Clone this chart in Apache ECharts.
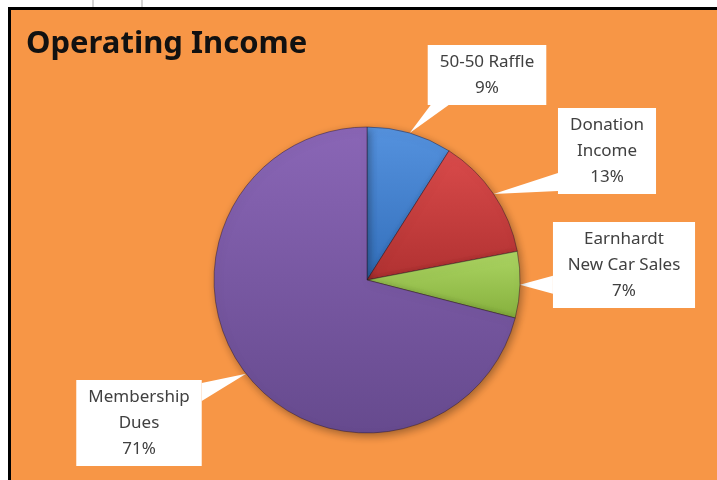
<!DOCTYPE html>
<html>
<head>
<meta charset="utf-8">
<script src="https://cdn.jsdelivr.net/npm/echarts@6/dist/echarts.min.js"></script>
<style>
  html, body { margin: 0; padding: 0; background: #fff; width: 717px; height: 480px; overflow: hidden; }
  .grid-line { position: absolute; top: 0; width: 2px; height: 7px; background: #d4d4d4; }
  #chart {
    position: absolute; left: 8px; top: 7px;
    width: 706px; height: 470px;
    border-left: 3px solid #000; border-top: 3px solid #000;
  }
</style>
</head>
<body>
<div class="grid-line" style="left:92px"></div>
<div class="grid-line" style="left:141px"></div>
<div id="chart"></div>
<script>
// data
const categories = ["50-50 Raffle", "Donation\nIncome", "Earnhardt\nNew Car Sales", "Membership\nDues"];
const shares = [9, 13, 7, 71];

// slice colours: [light, dark]
const sliceColors = [
  ["#5592de", "#336fbb"],
  ["#da4b4b", "#b03131"],
  ["#acd563", "#86b03d"],
  ["#8a66b6", "#664a8e"],
];
// centre of each callout box, in chart pixels
const labelCenters = [
  [476, 65],
  [596, 141],
  [613, 255],
  [128, 413],
];

const chart = echarts.init(document.getElementById("chart"));

const options = {
  backgroundColor: "#f79646",
  animation: false,
  title: {
    text: "Operating Income",
    left: 10,
    top: 14,
    textStyle: {
      fontFamily: "Noto Sans",
      fontSize: 31,
      fontWeight: "bold",
      color: "#111",
    },
  },
  series: [
    {
      type: "pie",
      center: [356, 270],
      radius: 153,
      startAngle: 90,
      clockwise: true,
      label: {
        show: true,
        formatter: "{b}\n{d}%",
        fontFamily: "Noto Sans",
        fontSize: 17,
        lineHeight: 26,
        color: "#404040",
        backgroundColor: "#fff",
        padding: [5, 12, 3, 12],
        align: "center",
      },
      labelLine: { show: false },
      labelLayout: function (params) {
        const c = labelCenters[params.dataIndex];
        return { x: c[0], y: c[1], align: "center", verticalAlign: "middle" };
      },
      itemStyle: {
        borderColor: "rgba(40,20,40,0.45)",
        borderWidth: 1,
        shadowBlur: 8,
        shadowOffsetX: 2,
        shadowOffsetY: 3,
        shadowColor: "rgba(0,0,0,0.35)",
      },
      data: categories.map((name, i) => ({
        name: name,
        value: shares[i],
        itemStyle: {
          color: new echarts.graphic.LinearGradient(0, 0, 0, 1, [
            { offset: 0, color: sliceColors[i][0] },
            { offset: 1, color: sliceColors[i][1] },
          ]),
        },
      })),
    },
  ],
};

chart.setOption(options);

// white callout wedges from the slice edge to each label box (Excel style)
function drawWedges() {
  const data = chart.getModel().getSeriesByIndex(0).getData();
  const wedges = [];
  const w = 18;
  data.each((idx) => {
    const lay = data.getItemLayout(idx);
    const mid = (lay.startAngle + lay.endAngle) / 2;
    const tip = [lay.cx + lay.r * Math.cos(mid), lay.cy + lay.r * Math.sin(mid)];
    const el = data.getItemGraphicEl(idx);
    const label = el.getTextContent();
    const r = label.getBoundingRect().clone();
    r.applyTransform(label.getComputedTransform());
    const nx = Math.max(r.x, Math.min(tip[0], r.x + r.width));
    const ny = Math.max(r.y, Math.min(tip[1], r.y + r.height));
    const dx = Math.abs(tip[0] - nx);
    const dy = Math.abs(tip[1] - ny);
    let b1, b2;
    if (dx > dy) {
      // vertical edge
      const y0 = Math.max(r.y + 3, Math.min(ny - w / 2, r.y + r.height - w - 3));
      b1 = [nx, y0];
      b2 = [nx, y0 + w];
    } else {
      const x0 = Math.max(r.x + 3, Math.min(nx - w / 2, r.x + r.width - w - 3));
      b1 = [x0, ny];
      b2 = [x0 + w, ny];
    }
    wedges.push({
      type: "polygon",
      z: 1,
      shape: { points: [tip, b1, b2] },
      style: { fill: "#fff" },
    });
  });
  chart.setOption({ graphic: wedges });
}
drawWedges();

window.addEventListener("resize", () => {
  chart.resize();
});
</script>
</body>
</html>
